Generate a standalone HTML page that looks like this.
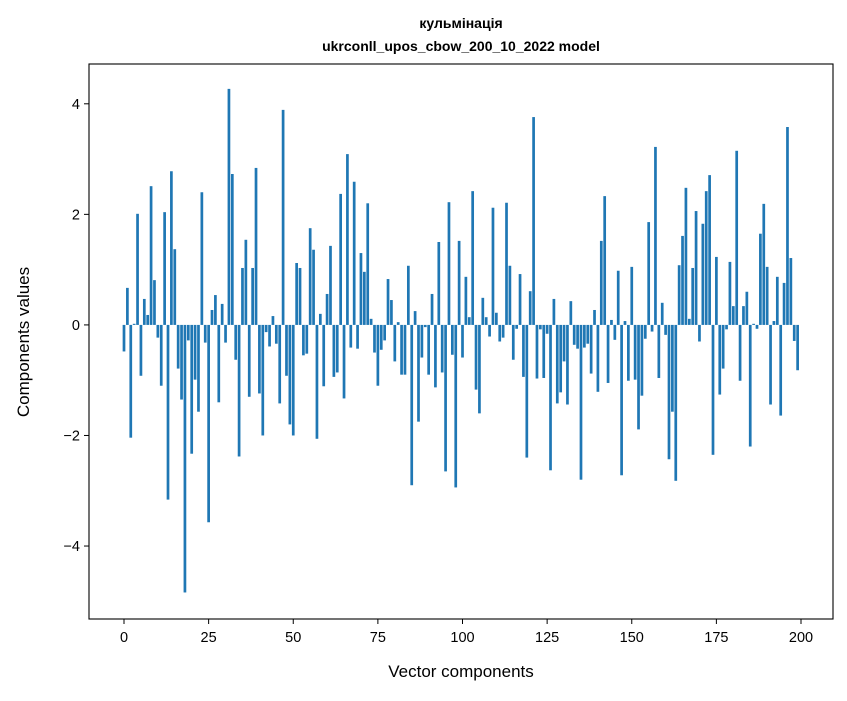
<!DOCTYPE html>
<html><head><meta charset="utf-8"><style>
body{margin:0;background:#fff;}
svg text{font-family:"Liberation Sans","DejaVu Sans",sans-serif;fill:#000;}
</style></head><body>
<svg id="chart" width="847" height="696" xmlns="http://www.w3.org/2000/svg">
<rect width="847" height="696" fill="#fff"/>
<text x="461" y="28" text-anchor="middle" font-size="14" font-weight="bold">кульмінація</text>
<text x="461" y="51" text-anchor="middle" font-size="14" font-weight="bold">ukrconll_upos_cbow_200_10_2022 model</text>
<g id="bars"></g>
<g id="xticks"></g>
<g id="yticks"></g>
<rect x="89" y="64" width="744" height="555" fill="none" stroke="#000" stroke-width="1.1"/>
<text x="461" y="677" text-anchor="middle" font-size="17">Vector components</text>
<text transform="translate(29,342) rotate(-90)" text-anchor="middle" font-size="17">Components values</text>
</svg>
<script>
const values = [-0.48,0.67,-2.04,0.02,2.01,-0.92,0.47,0.18,2.51,0.81,-0.23,-1.10,2.04,-3.16,2.78,1.37,-0.79,-1.35,-4.84,-0.28,-2.33,-0.99,-1.57,2.40,-0.32,-3.57,0.27,0.54,-1.40,0.38,-0.32,4.27,2.73,-0.63,-2.38,1.03,1.54,-1.30,1.03,2.84,-1.24,-2.00,-0.13,-0.39,0.16,-0.34,-1.42,3.89,-0.92,-1.80,
-2.00,1.12,1.03,-0.55,-0.52,1.75,1.36,-2.06,0.20,-1.11,0.56,1.43,-0.94,-0.86,2.37,-1.33,3.09,-0.41,2.59,-0.43,1.30,0.96,2.20,0.11,-0.50,-1.10,-0.45,-0.28,0.83,0.45,-0.66,0.05,-0.90,-0.90,1.07,-2.90,0.25,-1.75,-0.59,-0.04,-0.90,0.56,-1.13,1.50,-0.86,-2.65,2.22,-0.54,-2.94,1.52,
-0.59,0.87,0.14,2.42,-1.17,-1.60,0.49,0.14,-0.21,2.12,0.22,-0.30,-0.23,2.21,1.07,-0.63,-0.07,0.92,-0.94,-2.40,0.61,3.76,-0.97,-0.08,-0.96,-0.16,-2.63,0.47,-1.42,-1.22,-0.66,-1.44,0.43,-0.36,-0.43,-2.80,-0.41,-0.34,-0.88,0.27,-1.21,1.52,2.33,-1.05,0.09,-0.27,0.98,-2.72,0.07,-1.01,
1.05,-0.99,-1.89,-1.28,-0.25,1.86,-0.12,3.22,-0.96,0.40,-0.18,-2.43,-1.57,-2.82,1.08,1.61,2.48,0.11,1.03,2.06,-0.30,1.83,2.42,2.71,-2.35,1.23,-1.26,-0.79,-0.08,1.14,0.34,3.15,-1.01,0.34,0.60,-2.20,0.02,-0.07,1.65,2.19,1.05,-1.44,0.07,0.87,-1.64,0.76,3.58,1.21,-0.29,-0.82];
const xTickValues = [0,25,50,75,100,125,150,175,200];
const yTickValues = [-4,-2,0,2,4];
const yTickLabels = ["\u22124","\u22122","0","2","4"];

const X0=89,X1=833,Y0=64,Y1=619;
const xMin=-10.34,xMax=209.45,yMin=-5.32,yMax=4.72;
const xs=v=>X0+(v-xMin)/(xMax-xMin)*(X1-X0);
const ys=v=>Y1-(v-yMin)/(yMax-yMin)*(Y1-Y0);
const NS="http://www.w3.org/2000/svg";
const bars=document.getElementById('bars');
values.forEach((v,i)=>{
  const r=document.createElementNS(NS,'rect');
  const a=xs(i-0.4),b=xs(i+0.4);
  const y0=ys(0),y1=ys(v);
  r.setAttribute('x',a);r.setAttribute('width',b-a);
  r.setAttribute('y',Math.min(y0,y1));r.setAttribute('height',Math.abs(y1-y0));
  r.setAttribute('fill','#1f77b4');
  
  
  bars.appendChild(r);
});
const xg=document.getElementById('xticks');
xTickValues.forEach(t=>{
  const x=xs(t);
  const l=document.createElementNS(NS,'line');
  l.setAttribute('x1',x);l.setAttribute('x2',x);l.setAttribute('y1',Y1);l.setAttribute('y2',Y1+5);
  l.setAttribute('stroke','#000');
  
  
  xg.appendChild(l);
  const tx=document.createElementNS(NS,'text');
  tx.setAttribute('x',x);tx.setAttribute('y',Y1+23);tx.setAttribute('text-anchor','middle');tx.setAttribute('font-size','14.5');
  tx.textContent=t;
  
  
  xg.appendChild(tx);
});
const yg=document.getElementById('yticks');
yTickValues.forEach((t,k)=>{
  const y=ys(t);
  const l=document.createElementNS(NS,'line');
  l.setAttribute('x1',X0-5);l.setAttribute('x2',X0);l.setAttribute('y1',y);l.setAttribute('y2',y);
  l.setAttribute('stroke','#000');
  
  
  yg.appendChild(l);
  const tx=document.createElementNS(NS,'text');
  tx.setAttribute('x',X0-9);tx.setAttribute('y',y+5);tx.setAttribute('text-anchor','end');tx.setAttribute('font-size','14.5');
  tx.textContent=yTickLabels[k];
  
  
  yg.appendChild(tx);
});
</script>
</body></html>
